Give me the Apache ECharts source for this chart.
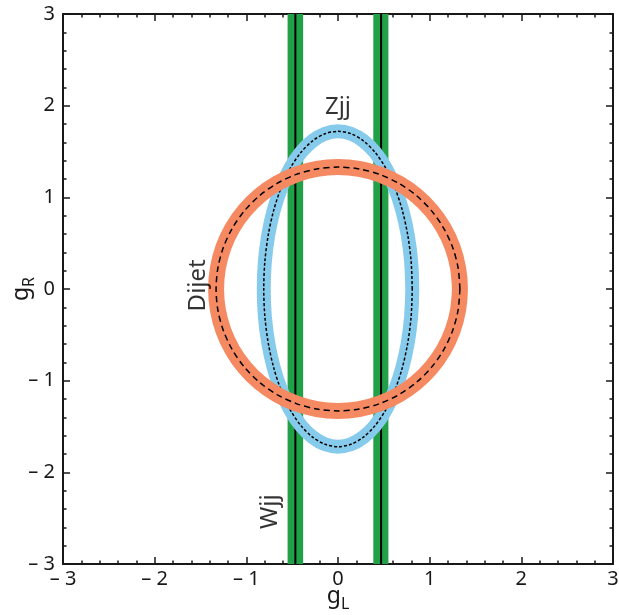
<!DOCTYPE html>
<html>
<head>
<meta charset="utf-8">
<script src="https://cdn.jsdelivr.net/npm/echarts@6/dist/echarts.min.js"></script>
<style>html,body{margin:0;padding:0;background:#fff;}#c{width:619px;height:615px;}</style>
</head>
<body>
<div id="c"></div>
<script>
// ---- data ----
const xTickValues = [-3, -2, -1, 0, 1, 2, 3];
const xTickLabels = ['– 3', '– 2', '– 1', '0', '1', '2', '3'];
const yTickValues = [-3, -2, -1, 0, 1, 2, 3];
const yTickLabels = ['– 3', '– 2', '– 1', '0', '1', '2', '3'];

// Wjj: two vertical allowed bands in g_L and their central lines
const wjjBands = [[-0.55, -0.38], [0.385, 0.55]];
const wjjCentral = [-0.465, 0.47];

// Dijet contour (g_L, g_R), read every ~10 degrees — closes with a small overlap
const dijetContour = [
  [1.31,-0.231],[1.33,0],[1.31,0.231],[1.25,0.455],[1.152,0.665],[1.019,0.855],[0.855,1.019],
  [0.665,1.152],[0.455,1.25],[0.231,1.31],[0,1.33],[-0.231,1.31],[-0.455,1.25],[-0.665,1.152],
  [-0.855,1.019],[-1.019,0.855],[-1.152,0.665],[-1.25,0.455],[-1.31,0.231],[-1.33,0],
  [-1.31,-0.231],[-1.25,-0.455],[-1.152,-0.665],[-1.019,-0.855],[-0.855,-1.019],[-0.665,-1.152],
  [-0.455,-1.25],[-0.231,-1.31],[0,-1.33],[0.231,-1.31],[0.455,-1.25],[0.665,-1.152],
  [0.855,-1.019],[1.019,-0.855],[1.152,-0.665],[1.25,-0.455],[1.31,-0.231],[1.33,0],[1.31,0.231]
];

// Zjj contour (g_L, g_R), read every ~10 degrees
const zjjContour = [
  [0.798,-0.299],[0.81,0],[0.798,0.299],[0.761,0.588],[0.701,0.86],[0.620,1.106],[0.521,1.318],
  [0.405,1.49],[0.277,1.616],[0.141,1.694],[0,1.72],[-0.141,1.694],[-0.277,1.616],[-0.405,1.49],
  [-0.521,1.318],[-0.620,1.106],[-0.701,0.86],[-0.761,0.588],[-0.798,0.299],[-0.81,0],
  [-0.798,-0.299],[-0.761,-0.588],[-0.701,-0.86],[-0.620,-1.106],[-0.521,-1.318],[-0.405,-1.49],
  [-0.277,-1.616],[-0.141,-1.694],[0,-1.72],[0.141,-1.694],[0.277,-1.616],[0.405,-1.49],
  [0.521,-1.318],[0.620,-1.106],[0.701,-0.86],[0.761,-0.588],[0.798,-0.299],[0.81,0],[0.798,0.299]
];

// text annotations: [g_L, g_R, text, rotation]
const annotations = [
  [0.0, 1.98, 'Zjj', 0],
  [-1.53, 0.04, 'Dijet', 90],
  [-0.74, -2.43, 'Wjj', 90]
];

// ---- chart ----
const FONT = 'Noto Sans';
const INK = '#1a1718';
const GREEN = '#22a047';
const BLUE = '#86cbec';
const ORANGE = '#f58a62';

function axisBase(pos, isX, labels, values, showLabels) {
  return {
    type: 'value', position: pos, min: -3, max: 3, interval: 1,
    axisLine: { show: true, onZero: false, lineStyle: { color: INK, width: 2 } },
    axisTick: { show: true, inside: true, length: 7, lineStyle: { color: INK, width: 1.5 } },
    minorTick: { show: true, splitNumber: 5, length: 3.5, lineStyle: { color: INK, width: 1.5 } },
    splitLine: { show: false },
    axisLabel: {
      show: showLabels, color: INK, fontFamily: FONT, fontSize: 20,
      margin: isX ? 5 : 8,
      formatter: v => labels[values.indexOf(Math.round(v))]
    }
  };
}

const nameRich = {
  g: { fontFamily: FONT, fontSize: 23, color: INK, lineHeight: 26 },
  s: { fontFamily: FONT, fontSize: 16, color: INK, lineHeight: 26, padding: [17, 0, 0, 0] }
};
const xMain = axisBase('bottom', true, xTickLabels, xTickValues, true);
xMain.name = '{g|g}{s|L}';
xMain.nameLocation = 'middle';
xMain.nameGap = 19;
xMain.nameMoveOverlap = false;
xMain.nameTextStyle = { rich: nameRich };
const yMain = axisBase('left', false, yTickLabels, yTickValues, true);
yMain.name = '{g|g}{s|R}';
yMain.nameLocation = 'middle';
yMain.nameGap = 29;
yMain.nameRotate = 90;
yMain.nameMoveOverlap = false;
yMain.nameTextStyle = { rich: nameRich };

const xTop = axisBase('top', true, xTickLabels, xTickValues, false);
const yRight = axisBase('right', false, yTickLabels, yTickValues, false);

const bandLine = (color, width) => ({ color, width, join: 'round', cap: 'round' });
const closedLoop = arr => arr.slice(1, arr.length - 1);

const chart = echarts.init(document.getElementById('c'), null, { renderer: 'canvas' });
chart.setOption({
  animation: false,
  backgroundColor: '#fff',
  grid: { left: 63, top: 14, width: 550, height: 550, containLabel: false, outerBoundsMode: 'none' },
  xAxis: [xMain, xTop],
  yAxis: [yMain, yRight],
  series: [
    {
      type: 'line', data: [], silent: true,
      markArea: {
        silent: true,
        itemStyle: { color: GREEN },
        data: wjjBands.map(b => [{ xAxis: b[0], yAxis: -3 }, { xAxis: b[1], yAxis: 3 }])
      }
    },
    ...wjjCentral.map(x => ({
      type: 'line', symbol: 'none', silent: true, z: 3,
      data: [[x, -3], [x, 3]],
      lineStyle: { color: '#000', width: 2 }
    })),
    {
      type: 'line', symbol: 'none', smooth: 0.3, silent: true, z: 4,
      data: zjjContour, lineStyle: bandLine(BLUE, 14)
    },
    {
      type: 'line', symbol: 'none', smooth: 0.3, silent: true, z: 5,
      data: closedLoop(zjjContour), lineStyle: { color: '#000', width: 1.5, type: [3, 2] }
    },
    {
      type: 'line', symbol: 'none', smooth: 0.3, silent: true, z: 6,
      data: dijetContour, lineStyle: bandLine(ORANGE, 16)
    },
    {
      type: 'line', symbol: 'none', smooth: 0.3, silent: true, z: 7,
      data: closedLoop(dijetContour), lineStyle: { color: '#000', width: 1.5, type: [6, 4] }
    },
    {
      type: 'scatter', symbolSize: 0, silent: true, z: 8,
      data: annotations.map(a => ({
        value: [a[0], a[1]],
        label: {
          show: true, position: 'inside', formatter: a[2], rotate: a[3],
          fontFamily: FONT, fontSize: 24, color: '#000'
        }
      }))
    }
  ]
});
</script>
</body>
</html>
